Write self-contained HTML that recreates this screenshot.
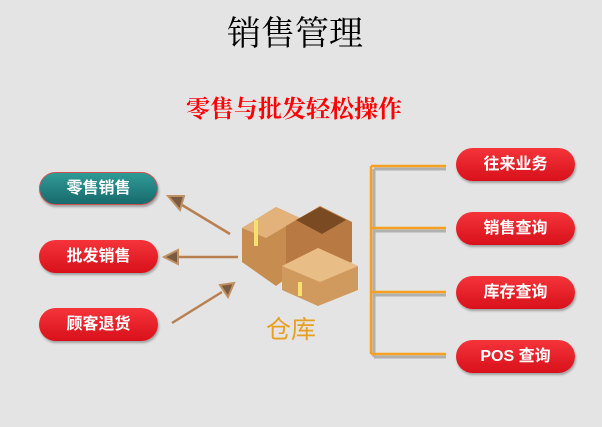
<!DOCTYPE html>
<html><head><meta charset="utf-8"><style>
body{margin:0;width:602px;height:427px;background:#e4e4e4;position:relative;overflow:hidden;font-family:"Liberation Sans","Noto Sans CJK SC",sans-serif}
.t{position:absolute;white-space:nowrap}
.b{position:absolute;width:119px;height:33px;border-radius:17px;color:#fff;font-weight:bold;font-size:16px;text-align:center;line-height:33px;background:linear-gradient(#f5343a,#d8101a);box-shadow:1px 2px 2px rgba(0,0,0,.3)}
.g{background:linear-gradient(#2f9b97,#186a6c);border:1px solid #d05050;box-sizing:border-box;line-height:31px}
</style></head><body>
<div class="t" style="left:0;width:590px;text-align:center;top:6px;font-size:34px;font-family:'Liberation Serif','Noto Serif CJK SC',serif;color:#000">销售管理</div>
<div class="t" style="left:0;width:588px;text-align:center;top:89px;font-size:24px;font-weight:bold;font-family:'Liberation Serif','Noto Serif CJK SC',serif;color:#f00">零售与批发轻松操作</div>
<div class="b g" style="left:39px;top:172px">零售销售</div>
<div class="b" style="left:39px;top:240px">批发销售</div>
<div class="b" style="left:39px;top:308px">顾客退货</div>
<div class="b" style="left:456px;top:148px">往来业务</div>
<div class="b" style="left:456px;top:212px">销售查询</div>
<div class="b" style="left:456px;top:276px">库存查询</div>
<div class="b" style="left:456px;top:340px">POS 查询</div>
<svg width="602" height="427" style="position:absolute;left:0;top:0">
<g stroke="#b0b0b0" stroke-width="3" fill="none"><path d="M374 169V357M374 169H446M374 231H446M374 295H446M374 357H446"/></g>
<g stroke="#f5a020" stroke-width="2.5" fill="none"><path d="M371 166V354M371 166H446M371 228H446M371 292H446M371 354H446"/></g>
<g stroke="#b88050" stroke-width="2.5"><line x1="230" y1="234" x2="182" y2="205"/><line x1="238" y1="257" x2="178" y2="257"/><line x1="172" y1="323" x2="222" y2="292"/></g>
<g fill="#7a5a40" stroke="#c09060" stroke-width="2"><polygon points="168,196 184,196 180,210"/><polygon points="164,257 178,250 178,264"/><polygon points="234,283 220,285 228,297"/></g>
<polygon points="242,228 276,207 300,218 300,268 276,286 242,262" fill="#c78c50"/>
<polygon points="242,228 276,207 300,218 266,238" fill="#e2b27a"/>
<polygon points="286,226 320,206 352,222 352,262 318,284 286,264" fill="#b87a42"/>
<polygon points="296,220 320,207 346,220 322,234" fill="#7a4a22"/>
<polygon points="282,266 318,248 358,266 358,290 318,306 282,290" fill="#d09a5e"/>
<polygon points="282,266 318,248 358,266 320,282" fill="#e8bd86"/>
<line x1="256" y1="220" x2="256" y2="246" stroke="#f5e070" stroke-width="4"/>
<line x1="300" y1="282" x2="300" y2="296" stroke="#f5e070" stroke-width="4"/>
</svg>
<div class="t" style="left:266px;top:310px;font-size:25px;color:#e8a020">仓库</div>
</body></html>
